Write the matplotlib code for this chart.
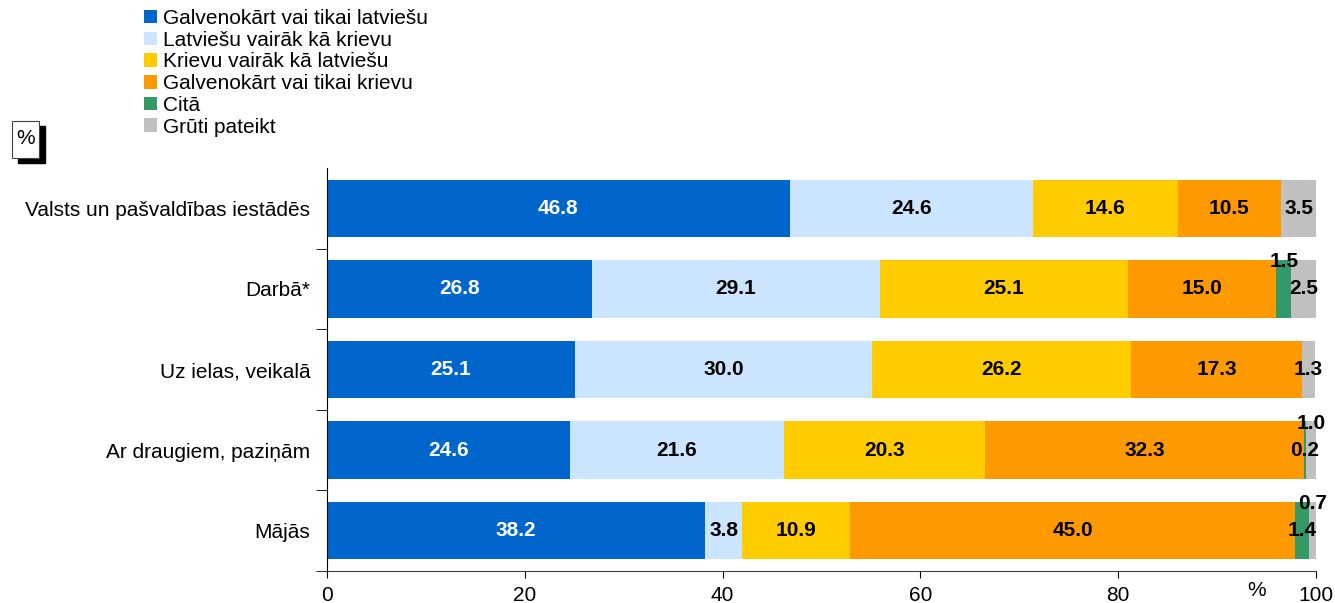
import numpy as np
import matplotlib
matplotlib.use("Agg")
import matplotlib.pyplot as plt
from matplotlib.patches import Rectangle

plt.rcParams['font.family'] = ['Liberation Sans', 'DejaVu Sans']

# data
categories = ["Valsts un pašvaldības iestādēs", "Darbā*", "Uz ielas, veikalā",
              "Ar draugiem, paziņām", "Mājās"]
series = ["Galvenokārt vai tikai latviešu", "Latviešu vairāk kā krievu",
          "Krievu vairāk kā latviešu", "Galvenokārt vai tikai krievu",
          "Citā", "Grūti pateikt"]
lv_only = [46.8, 26.8, 25.1, 24.6, 38.2]
lv_more = [24.6, 29.1, 30.0, 21.6, 3.8]
ru_more = [14.6, 25.1, 26.2, 20.3, 10.9]
ru_only = [10.5, 15.0, 17.3, 32.3, 45.0]
other = [0.0, 1.5, 0.0, 0.2, 1.4]
hard = [3.5, 2.5, 1.3, 1.0, 0.7]
values = [lv_only, lv_more, ru_more, ru_only, other, hard]

colors = ["#0066CC", "#CCE5FF", "#FFCC00", "#FF9900", "#339966", "#C0C0C0"]
text_colors = ["white", "black", "black", "black", "black", "black"]
# labels lifted to the bar top to avoid overlap: (row, series)
lifted = {(1, 4), (3, 5), (4, 5)}

FS = 15

fig = plt.figure(figsize=(13.35, 6.03), dpi=100)
ax = fig.add_axes([327 / 1335, 32 / 603, 989 / 1335, 403 / 603])

y = np.arange(len(categories))
left = np.zeros(len(categories))
bh = 0.71
for i, (name, vals) in enumerate(zip(series, values)):
    vals = np.array(vals)
    ax.barh(y, vals, left=left, height=bh, color=colors[i], label=name)
    for j, v in enumerate(vals):
        if v <= 0:
            continue
        yy = y[j] - bh / 2 + 0.02 if (j, i) in lifted else y[j]
        ax.text(left[j] + v / 2, yy, f"{v:.1f}", ha="center", va="center",
                color=text_colors[i], fontsize=FS, fontweight="bold")
    left += vals

ax.set_xlim(0, 100)
ax.set_ylim(len(categories) - 0.5, -0.5)
ax.set_xticks(np.arange(0, 101, 20))
ax.tick_params(axis="x", labelsize=FS, length=5, pad=6)
ax.set_yticks(y)
ax.set_yticklabels(categories, fontsize=FS)
ax.tick_params(axis="y", which="major", length=0, pad=12)
ax.set_yticks(np.arange(0.5, len(categories), 1.0), minor=True)
ax.tick_params(axis="y", which="minor", length=8)
for s in ["top", "right"]:
    ax.spines[s].set_visible(False)
ax.spines["bottom"].set_color("#404040")
ax.spines["left"].set_color("black")
ax.text(0.94, -0.025, "%", transform=ax.transAxes, ha="center", va="top", fontsize=FS)

handles, labels = ax.get_legend_handles_labels()
fig.legend(handles, labels, loc="upper left", bbox_to_anchor=(144 / 1335, 1 - 9 / 603),
           frameon=False, fontsize=FS, handlelength=0.62, handleheight=0.62,
           handletextpad=0.3, labelspacing=0.13, borderaxespad=0, borderpad=0)

# "%" box with shadow
fig.patches.append(Rectangle((18 / 1335, 1 - 163 / 603), 27 / 1335, 37 / 603,
                             transform=fig.transFigure, color="black", zorder=1))
fig.patches.append(Rectangle((12 / 1335, 1 - 158 / 603), 27 / 1335, 37 / 603,
                             transform=fig.transFigure, facecolor="white",
                             edgecolor="#404040", lw=0.8, zorder=2))
fig.text(25.5 / 1335, 1 - 139 / 603, "%", ha="center", va="center", fontsize=FS, zorder=3)

fig.savefig("out.png", dpi=100)
